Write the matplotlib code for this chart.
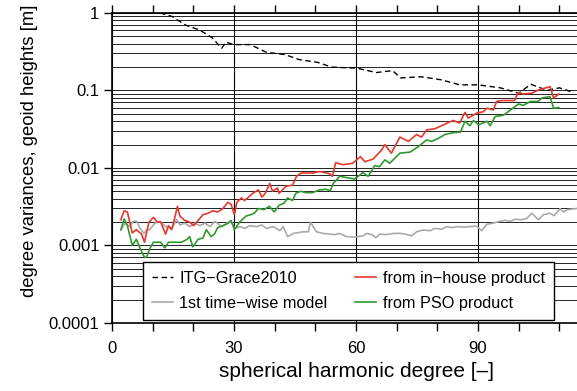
import matplotlib
matplotlib.use('Agg')
import matplotlib.pyplot as plt
import numpy as np
from matplotlib.ticker import LogLocator, FixedLocator, MultipleLocator, NullFormatter

plt.rcParams['font.family'] = ['Liberation Sans', 'DejaVu Sans']

## ITG-Grace2010 (dashed black)
deg_itg = [11.8, 14.8, 18.0, 21.6, 24.6, 27.0, 28.0, 30.0, 34.0, 38.0, 42.5, 46.0, 50.6, 54.0,
           58.5, 60.0, 65.0, 69.0, 71.0, 76.0, 81.0, 85.5, 90.0, 95.5, 100.0, 103.0, 107.0, 110.0, 113.0]
val_itg = [1.0, 0.9, 0.70, 0.60, 0.48, 0.35, 0.42, 0.39, 0.39, 0.31, 0.29, 0.25, 0.23, 0.20,
           0.195, 0.195, 0.17, 0.18, 0.145, 0.15, 0.137, 0.118, 0.118, 0.108, 0.092, 0.12, 0.10, 0.108, 0.096]

## 1st time-wise model (gray)
deg_tw = [2.2, 3.2, 4.4, 5.2, 6.1, 6.9, 7.9, 8.5, 9.3, 10.6, 11.8, 13.2, 14.7, 15.9, 16.7, 17.9,
          19.2, 20.4, 21.6, 22.9, 24.1, 25.3, 27.0, 28.2, 29.4, 30.2, 31.5, 32.7, 33.9, 35.6, 36.8,
          38.0, 39.7, 41.3, 42.1, 43.2, 44.6, 47.0, 48.3, 48.8, 50.3, 51.9, 54.8, 56.0, 57.7, 59.7,
          61.8, 62.6, 63.9, 64.9, 65.9, 67.5, 69.2, 70.8, 72.0, 73.7, 74.9, 76.5, 78.2, 79.4, 81.1,
          82.3, 83.5, 85.2, 86.4, 88.0, 89.7, 90.9, 92.2, 93.8, 95.4, 96.7, 97.9, 99.1, 100.8, 102.0,
          103.2, 104.9, 106.1, 107.7, 108.7, 110.2, 111.0, 112.0, 114.3]
val_tw = [0.00158, 0.00194, 0.00175, 0.00205, 0.00205, 0.00166, 0.00143, 0.00158, 0.00160, 0.00194,
          0.00205, 0.00175, 0.00166, 0.00215, 0.00184, 0.00194, 0.00175, 0.00194, 0.00180, 0.00194,
          0.00175, 0.00205, 0.00175, 0.00194, 0.00200, 0.00166, 0.00175, 0.00166, 0.00180, 0.00175,
          0.00184, 0.00166, 0.00175, 0.00155, 0.00175, 0.00130, 0.00143, 0.00150, 0.00150, 0.00200,
          0.00150, 0.00143, 0.00138, 0.00143, 0.00130, 0.00128, 0.00133, 0.00143, 0.00138, 0.00126,
          0.00140, 0.00138, 0.00143, 0.00143, 0.00141, 0.00133, 0.00150, 0.00158, 0.00155, 0.00166,
          0.00162, 0.00175, 0.00170, 0.00175, 0.00172, 0.00175, 0.00178, 0.00155, 0.00188, 0.00194,
          0.00205, 0.00211, 0.00205, 0.00217, 0.00215, 0.00223, 0.00260, 0.00215, 0.00250, 0.00260,
          0.00242, 0.00300, 0.00270, 0.00290, 0.00300]

## from in-house product (red)
deg_ih = [2.2, 3.0, 3.8, 5.0, 6.0, 7.3, 8.0, 9.1, 10.2, 11.2, 12.0, 13.2, 13.9, 14.7, 15.1, 16.1,
          16.7, 17.9, 19.1, 20.1, 21.2, 22.4, 23.6, 24.8, 26.0, 27.3, 28.5, 29.3, 30.1, 30.7, 31.8,
          32.6, 33.8, 34.6, 36.0, 36.9, 37.7, 38.8, 39.5, 40.7, 41.1, 41.9, 42.8, 44.4, 45.4, 46.5,
          49.5, 51.0, 53.4, 54.2, 55.0, 56.8, 59.2, 61.1, 62.2, 64.2, 66.3, 67.1, 68.7, 70.8, 72.9,
          74.9, 76.1, 77.4, 79.4, 81.0, 83.9, 85.5, 86.8, 87.6, 89.7, 91.3, 92.2, 93.8, 94.6, 95.9,
          99.0, 99.9, 101.1, 103.2, 104.8, 107.7, 108.6, 109.9]
val_ih = [0.00214, 0.0028, 0.0027, 0.00145, 0.0016, 0.0014, 0.0011, 0.0020, 0.0023, 0.0020, 0.0020,
          0.0014, 0.0018, 0.0016, 0.0019, 0.0032, 0.0024, 0.0021, 0.0020, 0.0018, 0.0021, 0.0025,
          0.0026, 0.0028, 0.0027, 0.0030, 0.0036, 0.0034, 0.0025, 0.0036, 0.0041, 0.0038, 0.0043,
          0.0047, 0.0052, 0.0042, 0.0047, 0.0063, 0.0050, 0.0055, 0.0047, 0.0052, 0.0058, 0.0060,
          0.0078, 0.0086, 0.0086, 0.0090, 0.0085, 0.0078, 0.0117, 0.0110, 0.0115, 0.0140, 0.0120,
          0.0130, 0.0170, 0.0200, 0.0155, 0.0250, 0.0220, 0.0270, 0.0250, 0.0310, 0.0320, 0.0350,
          0.0410, 0.0380, 0.0520, 0.0440, 0.0510, 0.0530, 0.0590, 0.0560, 0.0720, 0.0740, 0.0740,
          0.0940, 0.0900, 0.0920, 0.1010, 0.1120, 0.0800, 0.0900]

## from PSO product (green)
deg_pso = [2.2, 3.0, 3.8, 5.0, 6.0, 6.8, 8.0, 8.5, 9.4, 10.2, 11.4, 12.0, 13.0, 13.9, 14.7, 15.9,
           17.1, 18.5, 19.1, 19.9, 21.2, 22.4, 23.2, 24.4, 25.2, 26.0, 27.3, 28.3, 29.3, 30.1, 31.4,
           33.0, 34.2, 35.0, 36.0, 37.4, 38.7, 39.9, 41.1, 42.3, 43.2, 44.4, 45.2, 46.4, 47.7, 49.3,
           51.0, 52.6, 53.7, 54.4, 56.0, 57.7, 59.7, 61.7, 63.0, 64.6, 65.8, 67.1, 68.3, 70.8, 73.3,
           75.3, 77.4, 78.6, 80.2, 81.9, 83.9, 85.7, 86.8, 88.0, 88.9, 90.1, 92.2, 93.0, 94.2, 96.3,
           98.0, 100.0, 101.1, 102.9, 104.8, 105.7, 107.7, 108.6, 109.9]
val_pso = [0.0016, 0.0022, 0.0018, 0.0010, 0.0012, 0.00095, 0.0007, 0.00071, 0.00093, 0.0011,
           0.0011, 0.0011, 0.00093, 0.0011, 0.0011, 0.0011, 0.0011, 0.0012, 0.0013, 0.00096, 0.0012,
           0.00125, 0.0016, 0.0013, 0.0014, 0.0017, 0.0018, 0.0019, 0.0021, 0.0016, 0.0020, 0.0024,
           0.0025, 0.0026, 0.0030, 0.0029, 0.0032, 0.0027, 0.0033, 0.0035, 0.0041, 0.0038, 0.0047,
           0.0050, 0.0048, 0.0048, 0.0052, 0.0053, 0.0051, 0.0063, 0.0078, 0.0075, 0.0072, 0.0087,
           0.0078, 0.0107, 0.0104, 0.0127, 0.0115, 0.0155, 0.0160, 0.0188, 0.0230, 0.0220, 0.0240,
           0.0270, 0.0285, 0.0290, 0.0400, 0.0350, 0.0410, 0.0360, 0.0400, 0.0350, 0.0460, 0.0480,
           0.0560, 0.0670, 0.0640, 0.0720, 0.0720, 0.0800, 0.0830, 0.0590, 0.0600]

fig = plt.figure(figsize=(5.77, 3.91), dpi=100)
ax = fig.add_axes([0.194, 0.174, 0.8106, 0.793])

ax.plot(deg_itg, val_itg, c='k', lw=1.0, ls=(0, (4, 2.5)), label='ITG\u2212Grace2010')
ax.plot(deg_tw, val_tw, c='#aaaaaa', lw=1.2, label='1st time\u2212wise model')
ax.plot(deg_ih, val_ih, c='#e8382c', lw=1.2, label='from in\u2212house product')
ax.plot(deg_pso, val_pso, c='#2e9a2e', lw=1.2, label='from PSO product')

ax.set_yscale('log')
ax.set_ylim(1e-4, 1)
ax.set_xlim(0, 115)

## ticks + grid
ax.yaxis.set_major_locator(FixedLocator([1e-4, 1e-3, 1e-2, 1e-1, 1]))
ax.yaxis.set_minor_locator(LogLocator(base=10, subs=np.arange(2, 10), numticks=20))
ax.yaxis.set_minor_formatter(NullFormatter())
ax.set_yticklabels(['0.0001', '0.001', '0.01', '0.1', '1'])
ax.xaxis.set_major_locator(FixedLocator([0, 30, 60, 90]))
ax.xaxis.set_minor_locator(MultipleLocator(10))
ax.tick_params(axis='y', which='major', direction='out', length=6, width=1, labelsize=12, pad=3, right=False)
ax.tick_params(axis='y', which='minor', length=0)
ax.tick_params(axis='x', which='both', direction='out', top=True, width=1, labelsize=12)
ax.tick_params(axis='x', which='major', length=6, pad=7)
ax.tick_params(axis='x', which='minor', length=6)
ax.grid(True, axis='y', which='both', color='k', lw=0.6)
ax.grid(True, axis='x', which='major', color='k', lw=0.8)
ax.set_axisbelow(True)
for s in ax.spines.values():
    s.set_linewidth(1.2)

ax.set_xlabel('spherical harmonic degree [\u2013]', fontsize=15)
ax.xaxis.set_label_coords(0.522, -0.125)
ax.set_ylabel('degree variances, geoid heights [m]', fontsize=13.3)
ax.yaxis.set_label_coords(-0.158, 0.555)

leg = ax.legend(loc='lower left', bbox_to_anchor=(0.066, 0.01), ncol=2,
                fontsize=11.7, frameon=True, fancybox=False, handlelength=1.3, handletextpad=0.4,
                borderpad=0.55, labelspacing=0.62, columnspacing=1.7, borderaxespad=0)
leg.get_frame().set_edgecolor('k')
leg.get_frame().set_linewidth(1.0)
leg.get_frame().set_alpha(1)

fig.savefig('out.png', dpi=100)
